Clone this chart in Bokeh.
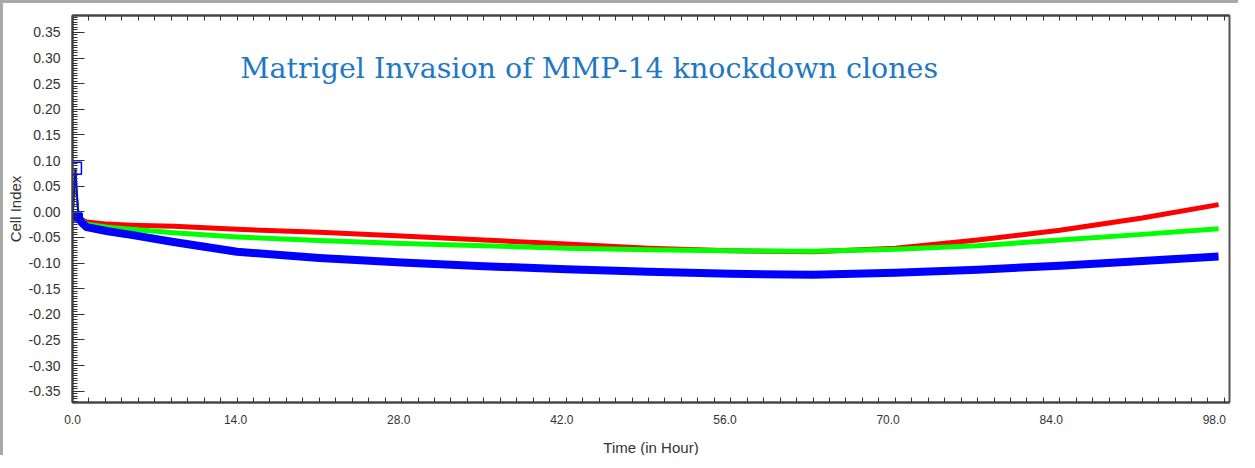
from bokeh.plotting import figure
from bokeh.models import (LinearAxis, SingleIntervalTicker, FixedTicker, Label,
                          Range1d, NumeralTickFormatter)
from bokeh.embed import file_html
from bokeh.resources import INLINE

# ---- data ----
hours = [0.0, 0.25, 0.5, 0.75, 1.2, 3, 5, 8.6, 14, 21, 28, 35, 42, 49, 56, 63, 70, 77, 84, 91, 97.5]
red = [-0.005, 0.055, 0.0, -0.015, -0.020, -0.024, -0.026, -0.028, -0.034, -0.040, -0.047, -0.055,
       -0.063, -0.071, -0.076, -0.078, -0.071, -0.055, -0.036, -0.012, 0.014]
green = [-0.005, 0.062, 0.0, -0.016, -0.024, -0.030, -0.034, -0.041, -0.049, -0.056, -0.062, -0.066,
         -0.071, -0.074, -0.076, -0.077, -0.073, -0.066, -0.055, -0.044, -0.033]
blue = [-0.010, 0.085, -0.010, -0.020, -0.030, -0.038, -0.045, -0.059, -0.078, -0.090, -0.099, -0.106,
        -0.112, -0.117, -0.121, -0.123, -0.119, -0.113, -0.105, -0.096, -0.087]
peak_hours = [0.25]
peak_blue = [0.085]
base_hours = [0.0, 0.5]
base_blue = [-0.010, -0.010]

x_tick_values = [0, 14, 28, 42, 56, 70, 84, 98]

title_text = "Matrigel Invasion of MMP-14  knockdown clones"
x_title = "Time (in Hour)"
y_title = "Cell Index"

X0, X1 = 0, 98.43
Y0, Y1 = -0.372, 0.383
LABEL_END = 99.3  # x tick labels drift slightly left of their ticks in the reference

p = figure(width=1238, height=455, output_backend="svg", toolbar_location=None,
           x_range=Range1d(X0, X1), y_range=Range1d(Y0, Y1),
           min_border_left=68, min_border_top=12, min_border_right=12, min_border_bottom=40,
           styles={"border-top": "3px solid #a9a9a9", "border-left": "3px solid #a9a9a9"})
p.extra_x_ranges = {"lab": Range1d(X0, LABEL_END)}
p.xgrid.visible = False
p.ygrid.visible = False
p.outline_line_color = "#555555"
p.outline_line_width = 2
p.background_fill_color = "white"
p.border_fill_color = "white"

# spike part (thin) and main trend (thick)
p.line(hours[:4], red[:4], line_color="#ff0000", line_width=2)
p.line(hours[:4], green[:4], line_color="#00ff00", line_width=2)
p.line(hours[:4], blue[:4], line_color="#0000ff", line_width=2)
p.line(hours[2:], red[2:], line_color="#ff0000", line_width=5, line_join="round")
p.line(hours[2:], green[2:], line_color="#00ff00", line_width=5, line_join="round")
p.line(hours[2:], blue[2:], line_color="#0000ff", line_width=8, line_join="round")
p.scatter(peak_hours, peak_blue, marker="square", size=12, fill_alpha=0.0,
          line_color="#0000ff", line_width=1.5)
p.scatter(base_hours, base_blue, marker="square", size=8, fill_color="#0000ff", line_color="#0000ff")

minor_x = [i * 1.4 for i in range(71)]

# bottom axis: ticks only
bx = p.xaxis[0]
bx.ticker = FixedTicker(ticks=[], minor_ticks=minor_x)
bx.axis_line_color = "#444444"
bx.axis_line_width = 2
bx.minor_tick_line_color = "#333333"
bx.minor_tick_in = 5
bx.minor_tick_out = 0
bx.major_tick_out = 0

# second bottom axis: labels only
lab = LinearAxis(x_range_name="lab", ticker=FixedTicker(ticks=x_tick_values, minor_ticks=[]),
                 formatter=NumeralTickFormatter(format="0.0"),
                 axis_line_color=None, major_tick_line_color=None, minor_tick_line_color=None,
                 major_tick_in=0, major_tick_out=0, minor_tick_in=0, minor_tick_out=0,
                 major_label_standoff=12, major_label_text_font="Liberation Sans",
                 major_label_text_font_size="12px", major_label_text_color="#333333",
                 axis_label=x_title, axis_label_standoff=12,
                 axis_label_text_font="Liberation Sans", axis_label_text_font_style="normal",
                 axis_label_text_font_size="15px", axis_label_text_color="#333333")
p.add_layout(lab, "below")

ly = p.yaxis[0]
ly.ticker = SingleIntervalTicker(interval=0.05, num_minor_ticks=10)
ly.formatter = NumeralTickFormatter(format="0.00")
ly.axis_line_color = "#444444"
ly.axis_line_width = 2
ly.major_tick_line_color = "#333333"
ly.minor_tick_line_color = "#333333"
ly.major_tick_in = 12
ly.major_tick_out = 0
ly.minor_tick_in = 5
ly.minor_tick_out = 0
ly.major_label_text_font = "Liberation Sans"
ly.major_label_text_color = "#333333"
ly.major_label_text_font_size = "14px"
ly.major_label_standoff = 12
ly.axis_label = y_title
ly.axis_label_standoff = 2
ly.axis_label_text_font = "Liberation Sans"
ly.axis_label_text_font_style = "normal"
ly.axis_label_text_color = "#333333"
ly.axis_label_text_font_size = "15px"

top = LinearAxis(ticker=FixedTicker(ticks=[], minor_ticks=minor_x),
                 axis_line_color="#444444", axis_line_width=2,
                 minor_tick_in=5, minor_tick_out=0, major_tick_out=0,
                 minor_tick_line_color="#333333")
p.add_layout(top, "above")

p.add_layout(Label(x=14.28, y=0.279, text=title_text, text_font="DejaVu Serif",
                   text_font_size="28.5px", text_color="#1f78c4", text_baseline="middle"))

open("out.html", "w").write(file_html(p, INLINE))
